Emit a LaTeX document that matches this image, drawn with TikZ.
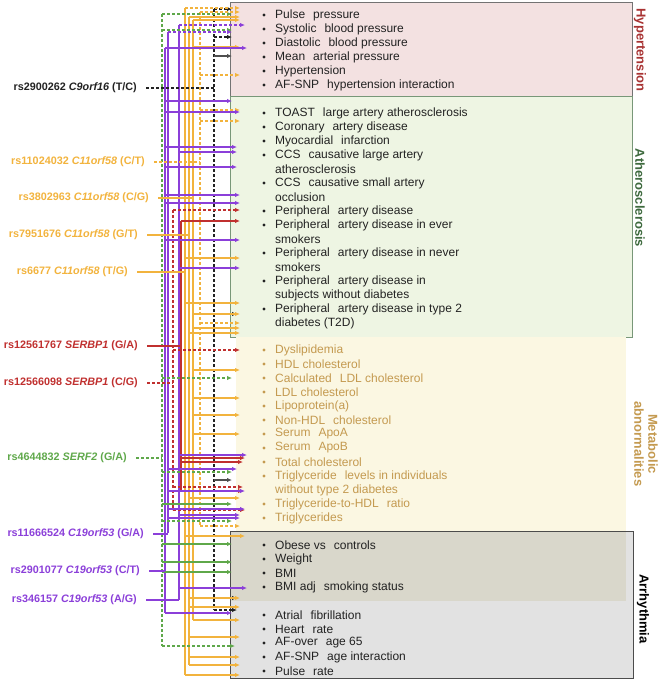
\documentclass[tikz,border=0pt]{standalone}
\usepackage{fontspec}
\setmainfont{Liberation Sans}
\usetikzlibrary{arrows.meta}
\definecolor{cOr}{HTML}{F2B33D}
\definecolor{cRd}{HTML}{C0302F}
\definecolor{cGn}{HTML}{5FA84A}
\definecolor{cPu}{HTML}{8B3FD9}
\definecolor{cK}{HTML}{222222}
\definecolor{fHy}{HTML}{F3E1E1}
\definecolor{fAt}{HTML}{EEF5E3}
\definecolor{fMe}{HTML}{FBF7E2}
\definecolor{fOb}{HTML}{D9D7CB}
\definecolor{fAr}{HTML}{E2E2E2}
\definecolor{tMe}{HTML}{C49A50}
\definecolor{tHy}{HTML}{A83232}
\definecolor{tAt}{HTML}{3E6A3E}
\newcommand{\wsp}{\hspace{8pt}}
\begin{document}
\begin{tikzpicture}[x=1pt,y=-1pt,
  solidln/.style={line width=1.1pt},
  dashln/.style={line width=1.1pt,dash pattern=on 3pt off 2pt},
  arr/.style={-{Latex[length=5pt,width=4.5pt]}},
  snp/.style={font=\fontsize{10.8}{13}\selectfont\bfseries,anchor=east,inner sep=0pt},
  item/.style={font=\fontsize{12}{13}\selectfont,anchor=west,inner sep=0pt,text=cK},
  mitem/.style={item,text=tMe},
  ttl/.style={font=\fontsize{13}{14}\selectfont\bfseries,rotate=-90,inner sep=0pt,align=center}]
\useasboundingbox (0,0) rectangle (663,680);
% ---------- boxes
\filldraw[fill=fHy,draw=black!55,line width=0.8pt] (230,2) rectangle (632,96);
\filldraw[fill=fAt,draw=tAt!70,line width=0.8pt] (230,96) rectangle (632,337);
\fill[fMe] (236,337) rectangle (626,531);
\fill[fAr] (230,531) rectangle (633,678);
\fill[fOb] (230,531) rectangle (626,601);
\draw[black!70,line width=0.8pt] (230,531) rectangle (633,678);
% ---------- titles
\node[ttl,text=tHy] (tH) at (640,50) {Hypertension};
\node[ttl,text=tAt] (tA) at (640,198) {Atherosclerosis};
\node[ttl,text=tMe] (tM) at (646,444) {Metabolic\\abnormalities};
\node[ttl,text=black] (tR) at (643,609) {Arrhythmia};
% ---------- buses
\draw[cK,dashln] (214,9) -- (214,610);
\draw[cGn,dashln] (162,14) -- (162,646);
\draw[cPu,solidln] (165,48) -- (165,613);
\draw[cPu,solidln] (168,32) -- (168,533);
\draw[cRd,dashln] (173,210) -- (173,510);
\draw[cPu,solidln] (179,25) -- (179,600);
\draw[cRd,solidln] (181,221) -- (181,491);
\draw[cOr,solidln] (185,8) -- (185,675);
\draw[cOr,solidln] (189,17) -- (189,665);
\draw[cOr,solidln] (193,20) -- (193,620);
\draw[cOr,dashln] (200,12) -- (200,526);
% ---------- arrows
\foreach \y/\e in {9/232,37/232,314/237,598/237,610/237} \draw[cK,dashln,arr] (214,\y) -- (\e,\y);
\foreach \y/\e in {56/232,480/232} \draw[cK!80,solidln,arr] (214,\y) -- (\e,\y);
\foreach \y/\e in {14/232,30/232,378/232,472/232,521/232,646/235} \draw[cGn,dashln,arr] (162,\y) -- (\e,\y);
\foreach \y/\e in {504/232,544/232,562/232,572/232} \draw[cGn,solidln,arr] (162,\y) -- (\e,\y);
\foreach \y/\e in {20/240,47/240,314/240,328/240,370/240,398/240,415/240,434/240,620/240} \draw[cOr,solidln,arr] (193,\y) -- (\e,\y);
\foreach \y/\e in {17/240,333/240,498/240,598/240,607/240,637/240,657/240,665/240} \draw[cOr,solidln,arr] (189,\y) -- (\e,\y);
\foreach \y/\e in {258/240,303/240,536/245,675/240} \draw[cOr,solidln,arr] (185,\y) -- (\e,\y);
\draw[cOr,dashln,arr] (185,8) -- (240,8);
\foreach \y/\e in {12/240,75/240,110/240,121/240,323/240,526/240} \draw[cOr,dashln,arr] (200,\y) -- (\e,\y);
\foreach \y/\e in {210/240,350/240,487/243,510/245} \draw[cRd,dashln,arr] (173,\y) -- (\e,\y);
\foreach \y/\e in {221/240,458/245,462/243,491/243} \draw[cRd,solidln,arr] (181,\y) -- (\e,\y);
\foreach \y/\e in {48/247,101/232,112/240,147/237,167/237,195/240,203/240,240/240,613/232} \draw[cPu,solidln,arr] (165,\y) -- (\e,\y);
\draw[cPu,dashln,arr] (168,32) -- (232,32);
\foreach \y/\e in {469/237,491/245,509/245,518/240} \draw[cPu,solidln,arr] (168,\y) -- (\e,\y);
\draw[cPu,dashln,arr] (179,25) -- (245,25);
\foreach \y/\e in {152/237,268/240,455/247,515/240,588/247} \draw[cPu,solidln,arr] (179,\y) -- (\e,\y);
% ---------- SNP labels
\node[snp,text=cK]  (s1) at (137,88)  {rs2900262 \textit{C9orf16} (T/C)};
\node[snp,text=cOr] (s2) at (145,162) {rs11024032 \textit{C11orf58} (C/T)};
\node[snp,text=cOr] (s3) at (149,198) {rs3802963 \textit{C11orf58} (C/G)};
\node[snp,text=cOr] (s4) at (138,235) {rs7951676 \textit{C11orf58} (G/T)};
\node[snp,text=cOr] (s5) at (128,272) {rs6677 \textit{C11orf58} (T/G)};
\node[snp,text=cRd] (s6) at (138,346) {rs12561767 \textit{SERBP1} (G/A)};
\node[snp,text=cRd] (s7) at (138,383) {rs12566098 \textit{SERBP1} (C/G)};
\node[snp,text=cGn] (s8) at (127,458) {rs4644832 \textit{SERF2} (G/A)};
\node[snp,text=cPu] (s9) at (144,534) {rs11666524 \textit{C19orf53} (G/A)};
\node[snp,text=cPu] (s10) at (140,571) {rs2901077 \textit{C19orf53} (C/T)};
\node[snp,text=cPu] (s11) at (137,600) {rs346157 \textit{C19orf53} (A/G)};
\coordinate (b1) at (214,88);
\coordinate (b2) at (200,162);
\coordinate (b3) at (193,198);
\coordinate (b4) at (189,235);
\coordinate (b5) at (185,272);
\coordinate (b6) at (181,346);
\coordinate (b7) at (173,383);
\coordinate (b8) at (162,458);
\coordinate (b9) at (168,534);
\coordinate (b10) at (165,571);
\coordinate (b11) at (179,600);
\draw[cK,dashln,shorten <=9pt] (s1.east) -- (b1);
\draw[cOr,dashln,shorten <=9pt] (s2.east) -- (b2);
\draw[cOr,solidln,shorten <=9pt] (s3.east) -- (b3);
\draw[cOr,solidln,shorten <=9pt] (s4.east) -- (b4);
\draw[cOr,solidln,shorten <=9pt] (s5.east) -- (b5);
\draw[cRd,solidln,shorten <=9pt] (s6.east) -- (b6);
\draw[cRd,dashln,shorten <=9pt] (s7.east) -- (b7);
\draw[cGn,dashln,shorten <=9pt] (s8.east) -- (b8);
\draw[cPu,solidln,shorten <=9pt] (s9.east) -- (b9);
\draw[cPu,solidln,shorten <=9pt] (s10.east) -- (b10);
\draw[cPu,solidln,shorten <=9pt] (s11.east) -- (b11);
% ---------- list items
\foreach \y/\t in {15/{Pulse\wsp pressure},29/{Systolic\wsp blood pressure},43/{Diastolic\wsp blood pressure},57/{Mean\wsp arterial pressure},71/{Hypertension},85/{AF-SNP\wsp hypertension interaction},
 113/{TOAST\wsp large artery atherosclerosis},127/{Coronary\wsp artery disease},141/{Myocardial\wsp infarction},155/{CCS\wsp causative large artery},183/{CCS\wsp causative small artery},211/{Peripheral\wsp artery disease},225/{Peripheral\wsp artery disease in ever},253/{Peripheral\wsp artery disease in never},281/{Peripheral\wsp artery disease in},309/{Peripheral\wsp artery disease in type 2},
 545/{Obese vs\wsp controls},559/{Weight},573/{BMI},587/{BMI adj\wsp smoking status},
 615/{Atrial\wsp fibrillation},629/{Heart\wsp rate},643/{AF-over\wsp age 65},657/{AF-SNP\wsp age interaction},671/{Pulse\wsp rate}}
 { \fill[cK] (264,\y) circle (1.7); \node[item] at (275,\y) {\t}; }
\foreach \y/\t in {169/{atherosclerosis},197/{occlusion},239/{smokers},267/{smokers},295/{subjects without diabetes},323/{diabetes (T2D)}}
 { \node[item] at (275,\y) {\t}; }
\foreach \y/\t in {350/{Dyslipidemia},364/{HDL cholesterol},378/{Calculated\wsp LDL cholesterol},392/{LDL cholesterol},406/{Lipoprotein(a)},420/{Non-HDL\wsp cholesterol},434/{Serum\wsp ApoA},448/{Serum\wsp ApoB},462/{Total cholesterol},476/{Triglyceride\wsp levels in individuals},504/{Triglyceride-to-HDL\wsp ratio},518/{Triglycerides}}
 { \fill[tMe] (264,\y) circle (1.7); \node[mitem] at (275,\y) {\t}; }
\node[mitem] at (275,490) {without type 2 diabetes};
\end{tikzpicture}
\end{document}
